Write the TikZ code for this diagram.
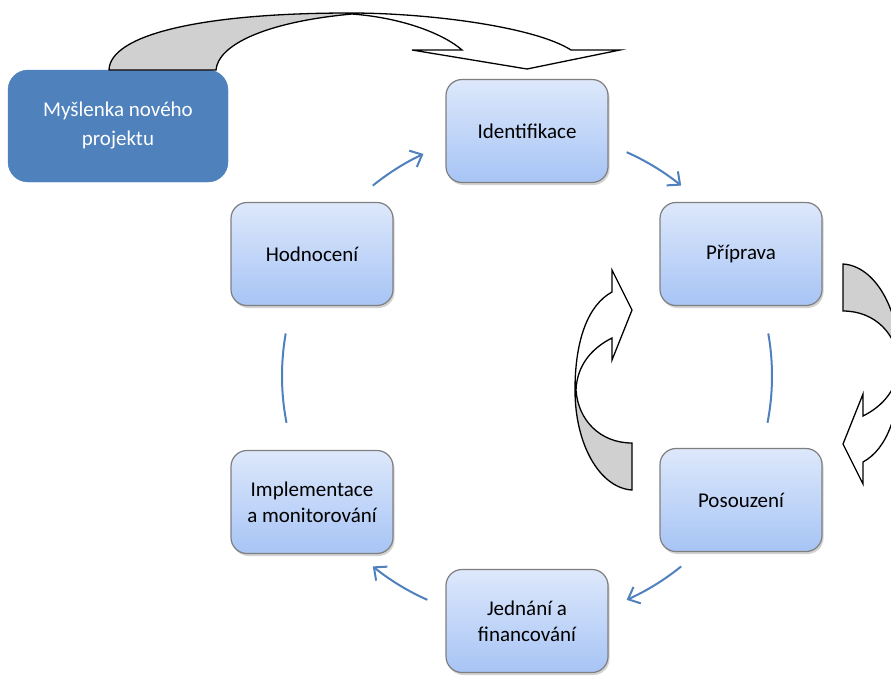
\documentclass[tikz,border=0pt]{standalone}
\usepackage{fontspec}
\setmainfont{Carlito}
\usetikzlibrary{arrows.meta,shadows}
\definecolor{accent}{HTML}{4F81BD}
\definecolor{boxtop}{HTML}{DDE8FB}
\definecolor{boxbot}{HTML}{A7C4F5}
\definecolor{boxline}{HTML}{7F7F7F}
\definecolor{bandgray}{HTML}{D0D0D0}
\begin{document}
\begin{tikzpicture}[x=1pt,y=-1pt,
  cyclebox/.style={rectangle, rounded corners=16pt, minimum width=162pt, minimum height=103pt,
    draw=boxline, line width=1.2pt, top color=boxtop, bottom color=boxbot, align=center,
    font=\fontsize{21}{26}\selectfont, text=black,
    drop shadow={shadow xshift=1.5pt, shadow yshift=-2.5pt, opacity=0.35}},
  ideabox/.style={rectangle, rounded corners=20pt, minimum width=220pt, minimum height=112pt,
    fill=accent, draw=accent, align=center, font=\fontsize{21}{29}\selectfont, text=white},
  cyc/.style={draw=accent, line width=2pt},
  cyctip/.style={cyc, -{Straight Barb[length=10pt,width=18pt]}},
  band/.style={draw=black, line width=1.3pt, line join=miter}
]
\useasboundingbox (0,0) rectangle (891,675);
\clip (0,0) rectangle (891,675);
\fill[white] (0,0) rectangle (891,675);

% idea box
\node[ideabox] (idea) at (118,126) {Myšlenka nového\\projektu};

% cycle boxes
\node[cyclebox] (ident) at (527,131) {Identifikace};
\node[cyclebox] (prip)  at (741,254) {Příprava};
\node[cyclebox] (pos)   at (741,500) {Posouzení};
\node[cyclebox] (jed)   at (527,621) {Jednání a\\financování};
\node[cyclebox] (impl)  at (312,502) {Implementace\\a monitorování};
\node[cyclebox] (hodn)  at (312,254) {Hodnocení};

% cycle connectors
\coordinate (c) at (527,376);
\draw[cyctip] (c) ++(-129:245) arc[start angle=-129, end angle=-115, radius=245];
\draw[cyctip] (c) ++(-66:245) arc[start angle=-66, end angle=-51, radius=245];
\draw[cyc] (c) ++(-10:245) arc[start angle=-10, end angle=11, radius=245];
\draw[cyctip] (c) ++(51:245) arc[start angle=51, end angle=66, radius=245];
\draw[cyctip] (c) ++(114:245) arc[start angle=114, end angle=129, radius=245];
\draw[cyc] (c) ++(169:245) arc[start angle=169, end angle=190, radius=245];

% top curved arrow
\fill[white] (109,70) .. controls (110,35) and (200,13) .. (350,13)
  .. controls (430,13) and (535,27) .. (571,50) -- (620,50) -- (527,69) -- (412,50) -- (462,50)
  .. controls (445,35) and (405,18) .. (352,14) .. controls (265,22) and (218,45) .. (216,70) -- cycle;
\fill[bandgray] (109,70) .. controls (110,35) and (200,13) .. (350,13) -- (352,14)
  .. controls (265,22) and (218,45) .. (216,70) -- cycle;
\draw[band] (109,70) .. controls (110,35) and (200,13) .. (350,13)
  .. controls (430,13) and (535,27) .. (571,50) -- (620,50) -- (527,69) -- (412,50) -- (462,50)
  .. controls (445,35) and (405,18) .. (352,14) .. controls (265,22) and (218,45) .. (216,70) -- cycle;

% left curved arrow (up)
\fill[white] (632,490) .. controls (600,488) and (575,445) .. (575,390)
  .. controls (575,340) and (588,305) .. (612,292) -- (612,270) -- (632,310) -- (612,360) -- (612,338)
  .. controls (592,348) and (577,365) .. (576,390) .. controls (578,420) and (600,443) .. (632,443) -- cycle;
\fill[bandgray] (576,390) .. controls (578,420) and (600,443) .. (632,443) -- (632,490)
  .. controls (600,488) and (575,445) .. (575,390) -- cycle;
\draw[band] (632,490) .. controls (600,488) and (575,445) .. (575,390)
  .. controls (575,340) and (588,305) .. (612,292) -- (612,270) -- (632,310) -- (612,360) -- (612,338)
  .. controls (592,348) and (577,365) .. (576,390) .. controls (578,420) and (600,443) .. (632,443) -- cycle;

% right curved arrow (down)
\begin{scope}[rotate around={180:(737.5,377)}]
\fill[white] (632,490) .. controls (600,488) and (575,445) .. (575,390)
  .. controls (575,340) and (588,305) .. (612,292) -- (612,270) -- (632,310) -- (612,360) -- (612,338)
  .. controls (592,348) and (577,365) .. (576,390) .. controls (578,420) and (600,443) .. (632,443) -- cycle;
\fill[bandgray] (576,390) .. controls (578,420) and (600,443) .. (632,443) -- (632,490)
  .. controls (600,488) and (575,445) .. (575,390) -- cycle;
\draw[band] (632,490) .. controls (600,488) and (575,445) .. (575,390)
  .. controls (575,340) and (588,305) .. (612,292) -- (612,270) -- (632,310) -- (612,360) -- (612,338)
  .. controls (592,348) and (577,365) .. (576,390) .. controls (578,420) and (600,443) .. (632,443) -- cycle;
\end{scope}
\end{tikzpicture}
\end{document}
